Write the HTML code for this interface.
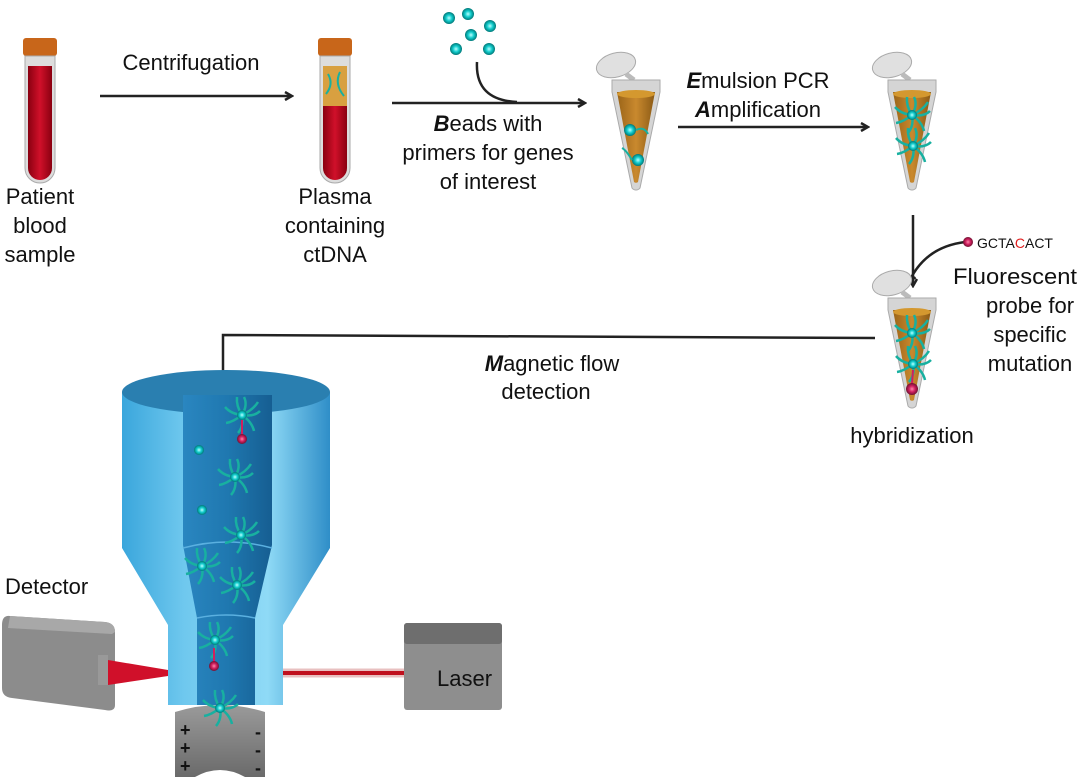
<!DOCTYPE html>
<html><head><meta charset="utf-8"><style>body{margin:0;background:#fff}svg{display:block}text{font-family:"Liberation Sans",sans-serif;font-size:22px;fill:#111}</style></head><body>
<svg width="1080" height="777" viewBox="0 0 1080 777">
<defs>
<marker id="ah" markerWidth="10" markerHeight="10" refX="8" refY="5" orient="auto" markerUnits="userSpaceOnUse"><path d="M1,1 L8,5 L1,9" fill="none" stroke="#222" stroke-width="2.5"/></marker>
<linearGradient id="red" x1="0" x2="1"><stop offset="0" stop-color="#8a0010"/><stop offset=".5" stop-color="#d0102a"/><stop offset="1" stop-color="#8a0010"/></linearGradient>
<linearGradient id="brn" x1="0" x2="1"><stop offset="0" stop-color="#9a6418"/><stop offset=".5" stop-color="#c9892e"/><stop offset="1" stop-color="#8a5a15"/></linearGradient>
<linearGradient id="blu" x1="0" x2="1"><stop offset="0" stop-color="#3aa6dc"/><stop offset=".3" stop-color="#6fc8ee"/><stop offset=".7" stop-color="#8fdaf6"/><stop offset="1" stop-color="#2f8ec8"/></linearGradient>
<linearGradient id="chan" x1="0" x2="1"><stop offset="0" stop-color="#2a86c0"/><stop offset=".5" stop-color="#1f78b0"/><stop offset="1" stop-color="#165e92"/></linearGradient>
<linearGradient id="gry" x1="0" x2="0" y1="0" y2="1"><stop offset="0" stop-color="#9a9a9a"/><stop offset="1" stop-color="#6a6a6a"/></linearGradient>
<radialGradient id="cy"><stop offset="0" stop-color="#bff"/><stop offset=".5" stop-color="#1cc"/><stop offset="1" stop-color="#077"/></radialGradient>
<radialGradient id="mg"><stop offset="0" stop-color="#f8a"/><stop offset=".5" stop-color="#d02060"/><stop offset="1" stop-color="#701030"/></radialGradient>
<g id="tube"><rect x="0" y="0" width="34" height="18" rx="3" fill="#c8661a"/><path d="M2,18 h30 v112 a15,15 0 0 1 -30,0z" fill="#ddd" stroke="#aaa"/><path d="M5,28 h24 v102 a12,12 0 0 1 -24,0z" fill="url(#red)"/></g>
<g id="ep"><ellipse cx="-20" cy="-15" rx="20" ry="12" fill="#e0e0e0" stroke="#aaa" transform="rotate(-15 -20 -15)"/><path d="M-10,-6 L-2,0" stroke="#bbb" stroke-width="5"/><path d="M-24,0 h48 v12 l-20,96 a5,5 0 0 1 -8,0 l-20,-96 z" fill="#d5d5d5" stroke="#aaa"/><path d="M-19,12 h38 l-17,90 a3,3 0 0 1 -4,0 z" fill="url(#brn)"/><ellipse cx="0" cy="14" rx="19" ry="4" fill="#d4982f"/></g>
<g id="star"><g fill="none" stroke="#18b0a0" stroke-width="2.5"><path d="M0,0 q6,-10 2,-18"/><path d="M0,0 q11,-5 16,-13"/><path d="M0,0 q12,2 18,-4"/><path d="M0,0 q10,7 12,16"/><path d="M0,0 q2,11 -4,18"/><path d="M0,0 q-9,7 -16,8"/><path d="M0,0 q-11,-1 -17,-8"/><path d="M0,0 q-6,-9 -5,-18"/></g><circle r="5" fill="url(#cy)"/></g>
</defs>
<use href="#tube" x="23" y="38"/>
<g transform="translate(318,38)"><rect x="0" y="0" width="34" height="18" rx="3" fill="#c8661a"/><path d="M2,18 h30 v112 a15,15 0 0 1 -30,0z" fill="#ddd" stroke="#aaa"/><path d="M5,28 h24 v40 h-24z" fill="#d8a040"/><path d="M5,68 h24 v62 a12,12 0 0 1 -24,0z" fill="url(#red)"/><path d="M10,36 q6,10 -2,20 M22,34 q-6,12 4,24" stroke="#18b0a0" stroke-width="2" fill="none"/></g>
<text x="40" y="204" text-anchor="middle">Patient</text><text x="40" y="233" text-anchor="middle">blood</text><text x="40" y="262" text-anchor="middle">sample</text>
<text x="335" y="204" text-anchor="middle">Plasma</text><text x="335" y="233" text-anchor="middle">containing</text><text x="335" y="262" text-anchor="middle">ctDNA</text>
<line x1="100" y1="96" x2="292" y2="96" stroke="#222" stroke-width="2.5" marker-end="url(#ah)"/>
<text x="191" y="70" text-anchor="middle">Centrifugation</text>
<g fill="url(#cy)"><circle cx="449" cy="18" r="6"/><circle cx="468" cy="14" r="6"/><circle cx="456" cy="49" r="6"/><circle cx="471" cy="35" r="6"/><circle cx="489" cy="49" r="6"/><circle cx="490" cy="26" r="6"/></g>
<path d="M477,62 q-2,38 40,40" fill="none" stroke="#222" stroke-width="2.5"/>
<line x1="392" y1="103" x2="585" y2="103" stroke="#222" stroke-width="2.5" marker-end="url(#ah)"/>
<text x="488" y="131" text-anchor="middle"><tspan font-weight="bold" font-style="italic">B</tspan>eads with</text>
<text x="488" y="160" text-anchor="middle">primers for genes</text><text x="488" y="189" text-anchor="middle">of interest</text>
<use href="#ep" x="636" y="80"/>
<circle cx="630" cy="130" r="6" fill="url(#cy)"/><circle cx="638" cy="160" r="6" fill="url(#cy)"/>
<path d="M636,130 q8,-4 12,4 M632,160 q-6,-10 -10,-12" stroke="#18b0a0" stroke-width="2" fill="none"/>
<line x1="678" y1="127" x2="868" y2="127" stroke="#222" stroke-width="2.5" marker-end="url(#ah)"/>
<text x="758" y="88" text-anchor="middle"><tspan font-weight="bold" font-style="italic">E</tspan>mulsion PCR</text>
<text x="758" y="117" text-anchor="middle"><tspan font-weight="bold" font-style="italic">A</tspan>mplification</text>
<use href="#ep" x="912" y="80"/>
<use href="#star" x="912" y="115"/><use href="#star" x="913" y="146"/>
<line x1="913" y1="215" x2="913" y2="286" stroke="#222" stroke-width="2.5" marker-end="url(#ah)"/>
<path d="M965,242 q-40,5 -56,40" fill="none" stroke="#222" stroke-width="2.5" marker-end="url(#ah)"/>
<circle cx="968" cy="242" r="5" fill="url(#mg)"/>
<text x="977" y="248" style="font-size:14px">GCTA<tspan fill="#e02020">C</tspan>ACT</text>
<text x="1015" y="284" text-anchor="middle" textLength="124" lengthAdjust="spacingAndGlyphs">Fluorescent</text><text x="1030" y="313" text-anchor="middle">probe for</text><text x="1030" y="342" text-anchor="middle">specific</text><text x="1030" y="371" text-anchor="middle">mutation</text>
<use href="#ep" x="912" y="298"/>
<use href="#star" x="912" y="333"/><use href="#star" x="913" y="364"/>
<line x1="913" y1="370" x2="912" y2="384" stroke="#d02060" stroke-width="2"/><circle cx="912" cy="389" r="6" fill="url(#mg)"/>
<text x="912" y="443" text-anchor="middle">hybridization</text>
<path d="M875,338 L223,335 L223,405" fill="none" stroke="#222" stroke-width="2.5" marker-end="url(#ah)"/>
<text x="552" y="371" text-anchor="middle"><tspan font-weight="bold" font-style="italic">M</tspan>agnetic flow</text>
<text x="546" y="399" text-anchor="middle">detection</text>
<path d="M122,392 L122,548 L168,625 L168,705 L283,705 L283,625 L330,548 L330,392 Z" fill="url(#blu)"/>
<ellipse cx="226" cy="392" rx="104" ry="22" fill="#2a7fb0"/>
<path d="M183,395 L183,545 L197,618 L197,705 L255,705 L255,618 L272,545 L272,395 Z" fill="url(#chan)"/>
<path d="M183,548 q45,-12 89,0" fill="none" stroke="#5ab0e0" stroke-width="1.5"/>
<path d="M197,618 q29,-6 58,0" fill="none" stroke="#5ab0e0" stroke-width="1.5"/>
<use href="#star" x="242" y="415"/><line x1="242" y1="420" x2="242" y2="436" stroke="#d02060" stroke-width="2"/><circle cx="242" cy="439" r="5" fill="url(#mg)"/>
<circle cx="199" cy="450" r="5" fill="url(#cy)"/><use href="#star" x="235" y="477"/><circle cx="202" cy="510" r="5" fill="url(#cy)"/>
<use href="#star" x="241" y="535"/><use href="#star" x="202" y="566"/><use href="#star" x="237" y="585"/>
<use href="#star" x="215" y="640"/><line x1="214" y1="648" x2="214" y2="662" stroke="#d02060" stroke-width="2"/><circle cx="214" cy="666" r="5" fill="url(#mg)"/>
<path d="M175,712 q45,-14 90,0 L265,777 L245,777 q-25,-14 -50,0 L175,777 Z" fill="url(#gry)"/>
<use href="#star" x="220" y="708"/>
<text x="180" y="736" style="font-size:18px;font-weight:bold">+</text><text x="180" y="754" style="font-size:18px;font-weight:bold">+</text><text x="180" y="772" style="font-size:18px;font-weight:bold">+</text>
<text x="255" y="738" style="font-size:18px;font-weight:bold">-</text><text x="255" y="756" style="font-size:18px;font-weight:bold">-</text><text x="255" y="774" style="font-size:18px;font-weight:bold">-</text>
<text x="5" y="594">Detector</text>
<path d="M10,616 L105,622 Q115,623 115,632 L115,705 Q115,712 105,710 L12,698 Q2,697 2,688 L2,625 Q2,615 10,616Z" fill="#8c8c8c"/>
<path d="M10,616 L105,622 Q115,623 115,632 L112,634 L8,628 Z" fill="#a8a8a8"/>
<rect x="98" y="655" width="10" height="30" fill="#999"/>
<polygon points="108,660 168,670 168,676 108,685" fill="#d0102a"/>
<line x1="283" y1="673" x2="415" y2="673" stroke="#e8c0c0" stroke-width="9"/><line x1="283" y1="673" x2="415" y2="673" stroke="#c0101e" stroke-width="4"/>
<rect x="404" y="623" width="98" height="87" rx="3" fill="#8e8e8e"/><rect x="404" y="623" width="98" height="21" rx="3" fill="#6e6e6e"/>
<text x="437" y="686">Laser</text>
</svg>
</body></html>
